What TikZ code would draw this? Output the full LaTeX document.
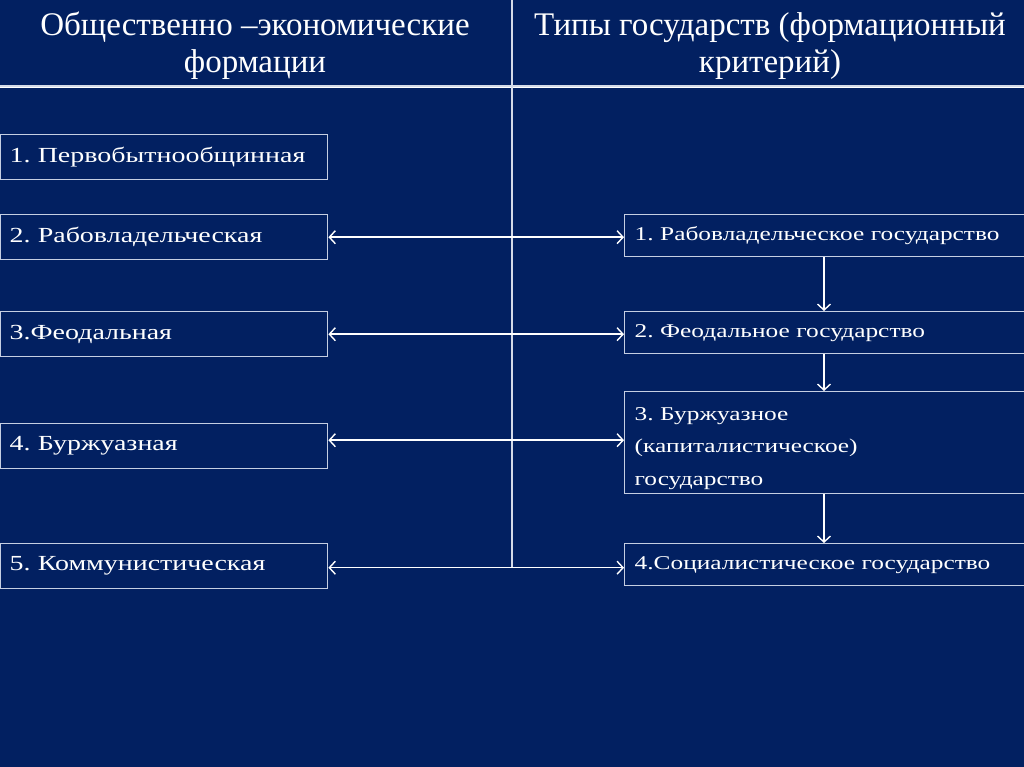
\documentclass[tikz,border=0pt]{standalone}
\usepackage{fontspec}
\setmainfont{Liberation Serif}
\newfontfamily\boxfont[FakeStretch=1.3]{Liberation Serif}
\usetikzlibrary{arrows.meta,positioning}
\definecolor{navy}{HTML}{022061}
\definecolor{rim}{HTML}{C5CEE2}
\definecolor{rule}{HTML}{D4DAE8}
\frenchspacing
\tikzset{
  >={Straight Barb[length=6pt,width=13pt,line width=1.4pt]},
  head/.style={text=white,align=center,font=\fontsize{33}{37}\selectfont},
  formbox/.style={draw=rim,line width=1.4pt,anchor=north west,minimum width=327pt,minimum height=45pt,
    text width=309pt,inner xsep=9pt,align=left,text=white,font=\boxfont\fontsize{21.5}{26}\selectfont},
  typebox/.style={draw=rim,line width=1.4pt,anchor=north west,minimum width=410pt,
    text width=390pt,inner xsep=10pt,align=left,text=white,font=\boxfont\fontsize{19.5}{32.5}\selectfont},
  link/.style={<->,white,line width=1.5pt},
  next/.style={->,white,line width=1.5pt},
}
\begin{document}
\begin{tikzpicture}[x=1pt,y=-1pt]
  \fill[navy] (0,0) rectangle (1024,767);
  \useasboundingbox (0,0) rectangle (1024,767);
  % headings
  \node[head] (hleft) at (255,46) {Общественно –экономические\\формации};
  \node[head] (hright) at (770,46) {Типы государств (формационный\\критерий)};
  \draw[rule,line width=2.4pt] (0,86.5) -- (1024,86.5);
  \draw[white,line width=0.8pt] (0,87.5) -- (1024,87.5);
  % formations
  \node[formbox] (form1) at (0,134) {1. Первобытнообщинная};
  \node[formbox] (form2) at (0,214) {2. Рабовладельческая};
  \node[formbox] (form3) at (0,311) {3.Феодальная};
  \node[formbox] (form4) at (0,423) {4. Буржуазная};
  \node[formbox] (form5) at (0,543) {5. Коммунистическая};
  % state types
  \node[typebox,minimum height=42pt] (type1) at (624,214) {1. Рабовладельческое государство};
  \node[typebox,minimum height=42pt] (type2) at (624,311) {2. Феодальное государство};
  \node[typebox,minimum height=102pt] (type3) at (624,391) {\rule{0pt}{24pt}3. Буржуазное\\(капиталистическое)\\государство};
  \node[typebox,minimum height=42pt] (type4) at (624,543) {4.Социалистическое государство};
  \draw[rule,line width=1.6pt] (512,0) -- ([yshift=-1.5pt]form5.east -| 512,0);
  \draw[link] (form2.east) -- (form2.east -| type1.west);
  \draw[link] (form3.east) -- (form3.east -| type2.west);
  \draw[link] ([yshift=6pt]form4.east) -- ([yshift=6pt]form4.east -| type3.west);
  \draw[link] ([yshift=-1.5pt]form5.east) -- ([yshift=-1.5pt]form5.east -| type4.west);
  \draw[next] (type1.south -| 824,0) -- (type2.north -| 824,0);
  \draw[next] (type2.south -| 824,0) -- (type3.north -| 824,0);
  \draw[next] (type3.south -| 824,0) -- (type4.north -| 824,0);
\end{tikzpicture}
\end{document}
